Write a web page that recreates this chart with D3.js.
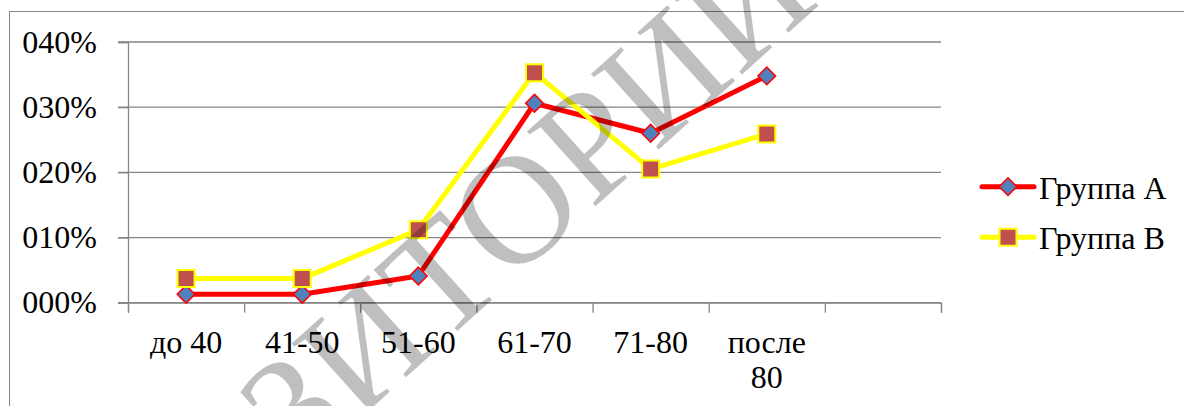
<!DOCTYPE html>
<html>
<head>
<meta charset="utf-8">
<script src="https://cdn.jsdelivr.net/npm/d3@7"></script>
</head>
<body style="margin:0">
<svg id="agePlot" width="1184" height="406"></svg>
<script>
// Age groups (the seventh slot on the axis is left empty)
const categories = ["до 40", "41-50", "51-60", "61-70", "71-80", "после 80", ""];
// Share of patients per age group, percent
const groupA = [1.3, 1.3, 4.1, 30.6, 26.0, 34.8];
const groupB = [3.7, 3.7, 11.2, 35.3, 20.5, 25.9];
const seriesNames = ["Группа А", "Группа В"];
const yTicks = [0, 10, 20, 30, 40];
const yTickLabels = ["000%", "010%", "020%", "030%", "040%"];

const svg = d3.select("#agePlot");
const plot = { left: 128, right: 941, top: 42, bottom: 302.7 };
const gridColor = "#868686";
const fontStack = `"Liberation Serif", "Times New Roman", "Tinos", serif`;
const fontSize = 32;

// Serif text helper
function addText(parent, str, size) {
  const s = size || fontSize;
  return parent.append("text")
    .attr("font-family", fontStack)
    .attr("font-size", s)
    .style("font-family", fontStack, "important")
    .style("font-size", s + "px", "important")
    .attr("fill", "#000")
    .text(str);
}

// Outer chart frame
svg.append("rect")
  .attr("x", 9.5).attr("y", 11.5)
  .attr("width", 1300).attr("height", 600)
  .attr("fill", "none").attr("stroke", gridColor).attr("stroke-width", 1);

const x = d3.scaleBand().domain(categories).range([plot.left, plot.right]).padding(0);
const xEdge = d3.scaleLinear().domain([0, categories.length]).range([plot.left, plot.right]);
const y = d3.scaleLinear().domain([0, 40]).range([plot.bottom, plot.top]);

// Horizontal gridlines
svg.append("g").selectAll("line").data(yTicks).join("line")
  .attr("x1", plot.left - 10).attr("x2", plot.right)
  .attr("y1", d => y(d)).attr("y2", d => y(d))
  .attr("stroke", gridColor).attr("stroke-width", 1.3);

// Y axis tick marks
const yAxis = svg.append("g").attr("transform", `translate(${plot.left},0)`)
  .call(d3.axisLeft(y).tickValues(yTicks).tickSize(10).tickFormat(""));
yAxis.select(".domain").attr("stroke", gridColor).attr("stroke-width", 1.3);
yAxis.selectAll(".tick line").attr("stroke", gridColor).attr("stroke-width", 1.3);

// Y tick labels
yTicks.forEach((v, i) => {
  addText(svg, yTickLabels[i])
    .attr("x", plot.left - 31).attr("y", y(v) + 10.5)
    .attr("text-anchor", "end");
});

// X axis: tick marks between categories
const xAxis = svg.append("g").attr("transform", `translate(0,${plot.bottom})`)
  .call(d3.axisBottom(xEdge).tickValues(d3.range(categories.length + 1))
    .tickSize(10).tickFormat(""));
xAxis.select(".domain").attr("stroke", gridColor).attr("stroke-width", 1.3);
xAxis.selectAll(".tick line").attr("stroke", gridColor).attr("stroke-width", 1.3);

// Category labels, wrapped into words where needed
categories.filter(c => c).forEach(d => {
  const cxl = x(d) + x.bandwidth() / 2;
  const parts = d.startsWith("после") ? d.split(" ") : [d];
  parts.forEach((p, i) => {
    addText(svg, p)
      .attr("x", cxl).attr("y", plot.bottom + 50.5 + i * 35)
      .attr("text-anchor", "middle");
  });
});

const cx = (d, i) => x(categories[i]) + x.bandwidth() / 2;
const line = d3.line().x(cx).y(d => y(d));

const diamond = d3.symbol().type(d3.symbolSquare).size(12.5 * 12.5);
const square = d3.symbol().type(d3.symbolSquare).size(17 * 17);

// Series A: red line with blue diamonds
svg.append("path").datum(groupA).attr("d", line)
  .attr("fill", "none").attr("stroke", "#ff0000").attr("stroke-width", 5)
  .attr("stroke-linejoin", "round");
svg.append("g").selectAll("path").data(groupA).join("path")
  .attr("d", diamond)
  .attr("transform", (d, i) => `translate(${cx(d, i)},${y(d)}) rotate(45)`)
  .attr("fill", "#4f81bd").attr("stroke", "#ff0000").attr("stroke-width", 1.5);

// Series B: yellow line with brown squares
svg.append("path").datum(groupB).attr("d", line)
  .attr("fill", "none").attr("stroke", "#ffff00").attr("stroke-width", 5)
  .attr("stroke-linejoin", "round");
svg.append("g").selectAll("path").data(groupB).join("path")
  .attr("d", square)
  .attr("transform", (d, i) => `translate(${cx(d, i)},${y(d)})`)
  .attr("fill", "#c0504d").attr("stroke", "#ffff00").attr("stroke-width", 2);

// Legend
const legendRows = [
  { name: seriesNames[0], color: "#ff0000", marker: diamond, rot: 45, fill: "#4f81bd", mstroke: "#ff0000", sw: 1.5, y: 186.7 },
  { name: seriesNames[1], color: "#ffff00", marker: square, rot: 0, fill: "#c0504d", mstroke: "#ffff00", sw: 2, y: 237.3 }
];
legendRows.forEach(r => {
  svg.append("line").attr("x1", 982).attr("x2", 1034).attr("y1", r.y).attr("y2", r.y)
    .attr("stroke", r.color).attr("stroke-width", 5).attr("stroke-linecap", "round");
  svg.append("path").attr("d", r.marker)
    .attr("transform", `translate(1008,${r.y}) rotate(${r.rot})`)
    .attr("fill", r.fill).attr("stroke", r.mstroke).attr("stroke-width", r.sw);
  addText(svg, r.name).attr("x", 1039).attr("y", r.y + 12);
});

// Diagonal repository watermark over the chart
addText(svg, "РЕПОЗИТОРИЙ", 155)
  .attr("transform", "translate(375,335) rotate(-42)")
  .attr("text-anchor", "middle")
  .attr("dominant-baseline", "central")
  .attr("fill-opacity", 0.25);
</script>
</body>
</html>
